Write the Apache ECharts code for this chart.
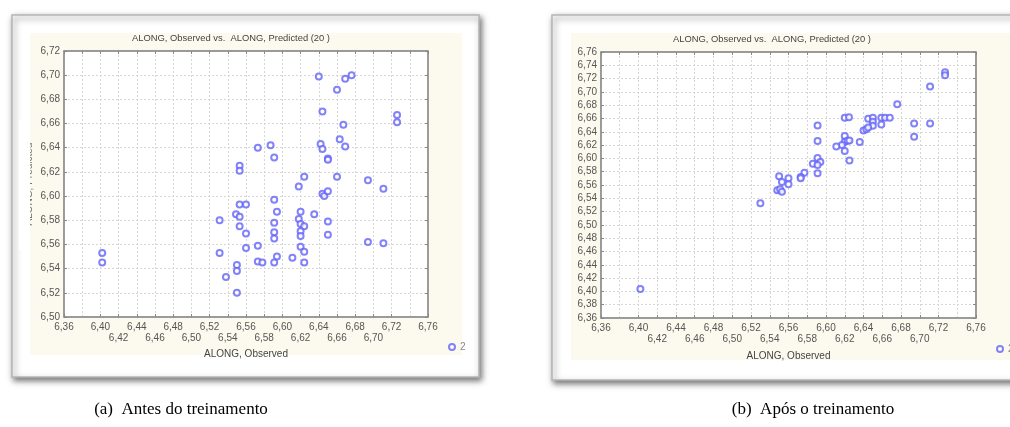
<!DOCTYPE html>
<html>
<head>
<meta charset="utf-8">
<script src="https://cdn.jsdelivr.net/npm/echarts@6/dist/echarts.min.js"></script>
<style>
html,body{margin:0;padding:0;background:#fff;}
#chart{width:1010px;height:427px;}
</style>
</head>
<body>
<div id="chart"></div>
<script>
// ---- data ----
const xTickLabels = ['6,36','6,38','6,40','6,42','6,44','6,46','6,48','6,50','6,52','6,54','6,56','6,58','6,60','6,62','6,64','6,66','6,68','6,70','6,72','6,74','6,76'];
const yTickLabelsA = ['6,50','6,52','6,54','6,56','6,58','6,60','6,62','6,64','6,66','6,68','6,70','6,72'];
const yTickLabelsB = ['6,36','6,38','6,40','6,42','6,44','6,46','6,48','6,50','6,52','6,54','6,56','6,58','6,60','6,62','6,64','6,66','6,68','6,70','6,72','6,74','6,76'];

// (a) Antes do treinamento
const observedA = [6.640,6.669,6.676,6.660,6.644,6.726,6.726,6.667,6.663,6.669,6.642,6.644,6.650,6.650,6.573,6.587,6.591,6.553,6.553,6.624,6.660,6.618,6.694,6.711,6.644,6.646,6.650,
  6.591,6.553,6.560,6.549,6.553,6.594,6.620,6.635,6.531,6.591,6.618,6.620,6.624,6.650,6.553,6.560,6.591,6.591,6.620,6.620,6.650,6.573,6.560,6.620,6.624,6.531,6.402,6.402,6.594,6.611,6.573,6.578,6.591,6.624,6.550,6.550,6.538,6.550,6.694,6.711];
const predictedA = [6.699,6.697,6.700,6.688,6.670,6.667,6.661,6.659,6.647,6.641,6.643,6.639,6.631,6.630,6.640,6.642,6.632,6.625,6.621,6.616,6.616,6.608,6.613,6.606,6.602,6.600,6.604,
  6.597,6.593,6.593,6.585,6.583,6.587,6.587,6.585,6.580,6.578,6.581,6.577,6.575,6.579,6.575,6.569,6.570,6.565,6.571,6.567,6.568,6.559,6.557,6.558,6.554,6.553,6.553,6.545,6.550,6.549,6.546,6.545,6.545,6.545,6.543,6.538,6.533,6.520,6.562,6.561];

// (b) Após o treinamento
const observedB = [6.727,6.727,6.711,6.676,6.620,6.6245,6.645,6.650,6.650,6.650,6.659,6.663,6.668,6.659,6.640,6.643,6.645,6.694,6.711,6.694,6.591,6.591,6.620,6.620,6.623,6.625,6.617,6.611,6.636,6.620,6.625,6.591,6.594,6.586,6.591,6.591,6.577,6.573,6.573,6.550,6.553,6.560,6.560,6.548,6.551,6.553,6.530,6.402];
const predictedB = [6.7295,6.725,6.708,6.6815,6.661,6.662,6.6595,6.661,6.655,6.649,6.661,6.661,6.661,6.651,6.642,6.644,6.6465,6.6525,6.6525,6.6325,6.6495,6.626,6.6335,6.625,6.6265,6.627,6.620,6.618,6.6245,6.611,6.597,6.6005,6.5945,6.592,6.590,6.5775,6.5785,6.572,6.570,6.573,6.5645,6.570,6.561,6.552,6.5535,6.550,6.5325,6.4035];

const seriesName = '2';
const titleText = 'ALONG, Observed vs.  ALONG, Predicted (20 )';
const xTitle = 'ALONG, Observed';
const yTitle = 'ALONG, Predicted';
const captionA = '(a)  Antes do treinamento';
const captionB = '(b)  Após o treinamento';

// ---- helpers ----
const num = s => parseFloat(s.replace(',', '.'));
function axisRange(labels){
  const min = num(labels[0]), max = num(labels[labels.length-1]);
  const step = Math.round((num(labels[1]) - min) * 1000) / 1000;
  return {min, max, step};
}
const xr = axisRange(xTickLabels), yrA = axisRange(yTickLabelsA), yrB = axisRange(yTickLabelsB);
function labelFor(labels, r, v){
  const i = Math.round((v - r.min) / r.step);
  return labels[i] !== undefined ? labels[i] : '';
}
const pairs = (xs, ys) => xs.map((x, i) => [x, ys[i]]);

const FONT = 'Liberation Sans, Arial, sans-serif';
const LABEL_COLOR = '#555';
const GRID_LINE = {show:true, lineStyle:{color:'#d6d6d6', type:[2,2], width:1}};
const AXIS_LINE = {show:true, lineStyle:{color:'#8c8c8c', width:1.5}};
const POINT_COLOR = '#6464f8';

function xAxes(gridIndex, gap){
  return [{
    type:'value', gridIndex, position:'bottom', min:xr.min, max:xr.max, interval:xr.step, z:3,
    axisLine:AXIS_LINE, axisTick:{show:true, inside:true, length:3, lineStyle:{color:'#888'}},
    splitLine:GRID_LINE,
    axisLabel:{show:true, margin:5, color:LABEL_COLOR, fontSize:10, fontFamily:FONT, lineHeight:11,
      showMinLabel:true, showMaxLabel:true, hideOverlap:false,
      formatter:v => { const i = Math.round((v - xr.min)/xr.step); const s = labelFor(xTickLabels, xr, v); return i % 2 ? '\n' + s : s; }},
    name:xTitle, nameLocation:'middle', nameGap:gap,
    nameTextStyle:{color:'#444', fontSize:10, fontFamily:FONT}
  },{
    type:'value', gridIndex, position:'top', min:xr.min, max:xr.max, interval:xr.step, z:3,
    axisLine:AXIS_LINE, axisTick:{show:true, inside:true, length:3, lineStyle:{color:'#888'}},
    splitLine:{show:false}, axisLabel:{show:false}
  }];
}
function yAxes(gridIndex, labels, r){
  return [{
    type:'value', gridIndex, position:'left', min:r.min, max:r.max, interval:r.step, z:3,
    axisLine:AXIS_LINE, axisTick:{show:true, inside:true, length:3, lineStyle:{color:'#888'}},
    splitLine:GRID_LINE,
    axisLabel:{show:true, margin:4, color:LABEL_COLOR, fontSize:10, fontFamily:FONT,
      showMinLabel:true, showMaxLabel:true, hideOverlap:false,
      formatter:v => labelFor(labels, r, v)}
  },{
    type:'value', gridIndex, position:'right', min:r.min, max:r.max, interval:r.step, z:3,
    axisLine:AXIS_LINE, axisTick:{show:true, inside:true, length:3, lineStyle:{color:'#888'}},
    splitLine:{show:false}, axisLabel:{show:false}
  }];
}

const chart = echarts.init(document.getElementById('chart'), null, {renderer:'canvas'});
const option = {
  animation:false,
  backgroundColor:'#ffffff',
  grid:[
    {left:64, top:51, width:364, height:266, show:true, backgroundColor:'#ffffff', borderColor:'#8c8c8c', borderWidth:1, z:2},
    {left:601, top:52, width:375, height:266, show:true, backgroundColor:'#ffffff', borderColor:'#8c8c8c', borderWidth:1, z:2}
  ],
  xAxis:[...xAxes(0, 31), ...xAxes(1, 33)],
  yAxis:[...yAxes(0, yTickLabelsA, yrA), ...yAxes(1, yTickLabelsB, yrB)],
  legend:[
    {data:[seriesName], left:443, top:337, itemWidth:6, itemHeight:6, itemGap:4, icon:'emptyCircle',
     textStyle:{color:'#888', fontSize:10, fontFamily:FONT}},
    {data:[seriesName], left:991, top:339, itemWidth:6, itemHeight:6, itemGap:4, icon:'emptyCircle',
     textStyle:{color:'#888', fontSize:10, fontFamily:FONT}}
  ],
  series:[
    {name:seriesName, type:'scatter', xAxisIndex:0, yAxisIndex:0, z:5, symbol:'emptyCircle', symbolSize:6,
     itemStyle:{color:POINT_COLOR, borderColor:POINT_COLOR, borderWidth:1}, data:pairs(observedA, predictedA)},
    {name:seriesName, type:'scatter', xAxisIndex:2, yAxisIndex:2, z:5, symbol:'emptyCircle', symbolSize:6,
     itemStyle:{color:POINT_COLOR, borderColor:POINT_COLOR, borderWidth:1}, data:pairs(observedB, predictedB)}
  ],
  graphic:[
    // frames
    {type:'rect', z:-5, shape:{x:12, y:15, width:467, height:362},
     style:{fill:'#ffffff', stroke:'#b5b5b5', lineWidth:1.5, shadowBlur:6, shadowOffsetX:2, shadowOffsetY:3, shadowColor:'rgba(0,0,0,0.55)'}},
    {type:'rect', z:-5, shape:{x:552, y:15, width:470, height:365},
     style:{fill:'#ffffff', stroke:'#b5b5b5', lineWidth:1.5, shadowBlur:6, shadowOffsetX:2, shadowOffsetY:3, shadowColor:'rgba(0,0,0,0.55)'}},
    // beige panels
    {type:'rect', z:-4, shape:{x:30, y:33, width:432, height:322}, style:{fill:'#fcfaee'}},
    {type:'rect', z:-4, shape:{x:571, y:33, width:440, height:327}, style:{fill:'#fcfaee'}},
    // partially hidden y title (left panel)
    {type:'text', z:-3, x:29, y:184, rotation:Math.PI/2,
     style:{text:yTitle, fill:'#777', font:'10px ' + FONT, align:'center', verticalAlign:'middle'}},
    {type:'rect', z:-2, shape:{x:19, y:120, width:11, height:130}, style:{fill:'#ffffff'}},
    // titles
    {type:'text', z:10, x:231, y:38,
     style:{text:titleText, fill:'#444', font:'9.4px ' + FONT, align:'center', verticalAlign:'middle'}},
    {type:'text', z:10, x:772, y:39,
     style:{text:titleText, fill:'#444', font:'9.4px ' + FONT, align:'center', verticalAlign:'middle'}},
    // captions
    {type:'text', z:10, x:181, y:410,
     style:{text:captionA, fill:'#000', font:'17px "Liberation Serif", "Times New Roman", serif', align:'center', verticalAlign:'middle'}},
    {type:'text', z:10, x:813, y:410,
     style:{text:captionB, fill:'#000', font:'17px "Liberation Serif", "Times New Roman", serif', align:'center', verticalAlign:'middle'}}
  ]
};
chart.setOption(option);
</script>
</body>
</html>
